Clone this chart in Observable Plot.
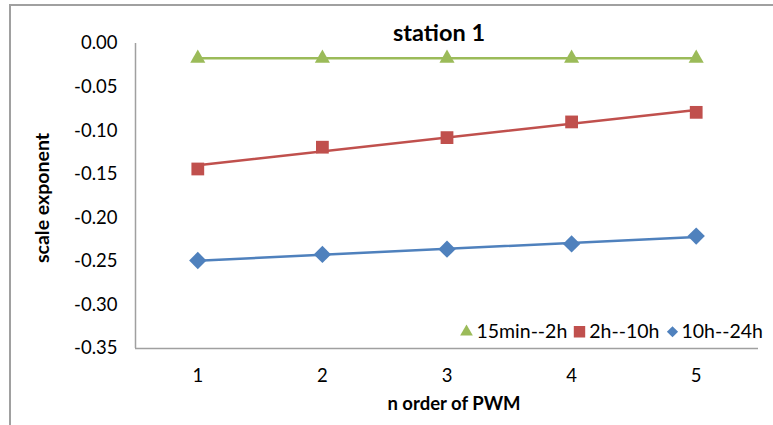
<!DOCTYPE html>
<html>
<head>
<meta charset="utf-8">
<script src="https://cdn.jsdelivr.net/npm/d3@7"></script>
<script src="https://cdn.jsdelivr.net/npm/@observablehq/plot@0.6"></script>
<style>
  html, body { margin: 0; padding: 0; background: #fff; }
  #wrap { position: relative; width: 773px; height: 425px; overflow: hidden; font-family: Lato, "Open Sans", sans-serif; }
  #frame { position: absolute; left: 9px; top: 4px; width: 800px; height: 500px; border-top: 2.5px solid #a0a0a0; border-left: 2.5px solid #a0a0a0; box-sizing: border-box; }
  .txt { position: absolute; white-space: nowrap; color: #000; }
  #title { left: 439px; top: 32px; transform: translate(-50%, -50%); font-size: 23.5px; font-weight: 700; }
  #ylab { left: 41px; top: 198px; transform: translate(-50%, -50%) rotate(-90deg); font-size: 19.5px; font-weight: 700; }
  #xlab { left: 454px; top: 403px; transform: translate(-50%, -50%); font-size: 18.5px; font-weight: 700; }
  #legend { position: absolute; right: 10px; top: 331px; transform: translateY(-50%); display: flex; align-items: center; font-size: 19.5px; line-height: 1; }
  #legend .item { display: flex; align-items: center; margin-left: 6px; }
  #legend svg { margin-right: 3px; }
  #chart { position: absolute; left: 0; top: 0; }
</style>
</head>
<body>
<div id="wrap">
  <div id="frame"></div>
  <div id="chart"></div>
  <div class="txt" id="title">station 1</div>
  <div class="txt" id="ylab">scale exponent</div>
  <div class="txt" id="xlab">n order of PWM</div>
  <div id="legend"></div>
</div>
<script>
const orders = [1, 2, 3, 4, 5];
const seriesNames = ["15min--2h", "2h--10h", "10h--24h"];
const s15min2h = [-0.017, -0.017, -0.017, -0.017, -0.017];
const s2h10h = [-0.144, -0.119, -0.108, -0.090, -0.079];
const s10h24h = [-0.249, -0.242, -0.236, -0.230, -0.221];
const yTicks = [0, -0.05, -0.10, -0.15, -0.20, -0.25, -0.30, -0.35];

const colors = ["#9BBB59", "#C0504D", "#4F81BD"];
const symbols = ["triangle", "square", "diamond2"];
const radii = [5.6, 7.2, 7.8];
const allValues = [s15min2h, s2h10h, s10h24h];

const marks = [
  Plot.ruleX([0.5], {stroke: "#a0a0a0", strokeWidth: 1.5, y1: -0.35, y2: 0}),
  Plot.ruleY([-0.35], {stroke: "#a0a0a0", strokeWidth: 1.5, x1: 0.5, x2: 5.5})
];
allValues.forEach((vals, i) => {
  const data = orders.map((o, j) => ({x: o, y: vals[j]}));
  marks.push(Plot.linearRegressionY(data, {x: "x", y: "y", stroke: colors[i], strokeWidth: 2.5, ci: 0}));
  marks.push(Plot.dot(data, {x: "x", y: "y", symbol: symbols[i], r: radii[i], fill: colors[i], stroke: "none"}));
});

const chart = Plot.plot({
  width: 773,
  height: 425,
  marginLeft: 135,
  marginRight: 15,
  marginTop: 43,
  marginBottom: 77,
  style: {fontFamily: "Lato, 'Open Sans', sans-serif", fontSize: "18.5px", background: "transparent", color: "#000"},
  x: {domain: [0.5, 5.5], ticks: orders, tickSize: 0, tickPadding: 20, tickFormat: d => String(d), label: null},
  y: {domain: [-0.35, 0], ticks: yTicks, tickSize: 0, tickPadding: 18, tickFormat: d => d.toFixed(2), label: null},
  marks
});
document.getElementById("chart").appendChild(chart);

const legend = document.getElementById("legend");
seriesNames.forEach((name, i) => {
  const item = document.createElement("div");
  item.className = "item";
  const sym = d3.create("svg").attr("width", 13).attr("height", 14);
  const symType = [d3.symbolTriangle, d3.symbolSquare, d3.symbolDiamond2][i];
  const size = [70, 130, 80][i];
  sym.append("path").attr("transform", "translate(6.5,7.5)").attr("d", d3.symbol(symType, size)()).attr("fill", colors[i]);
  item.appendChild(sym.node());
  const t = document.createElement("span");
  t.textContent = name;
  item.appendChild(t);
  legend.appendChild(item);
});
</script>
</body>
</html>
